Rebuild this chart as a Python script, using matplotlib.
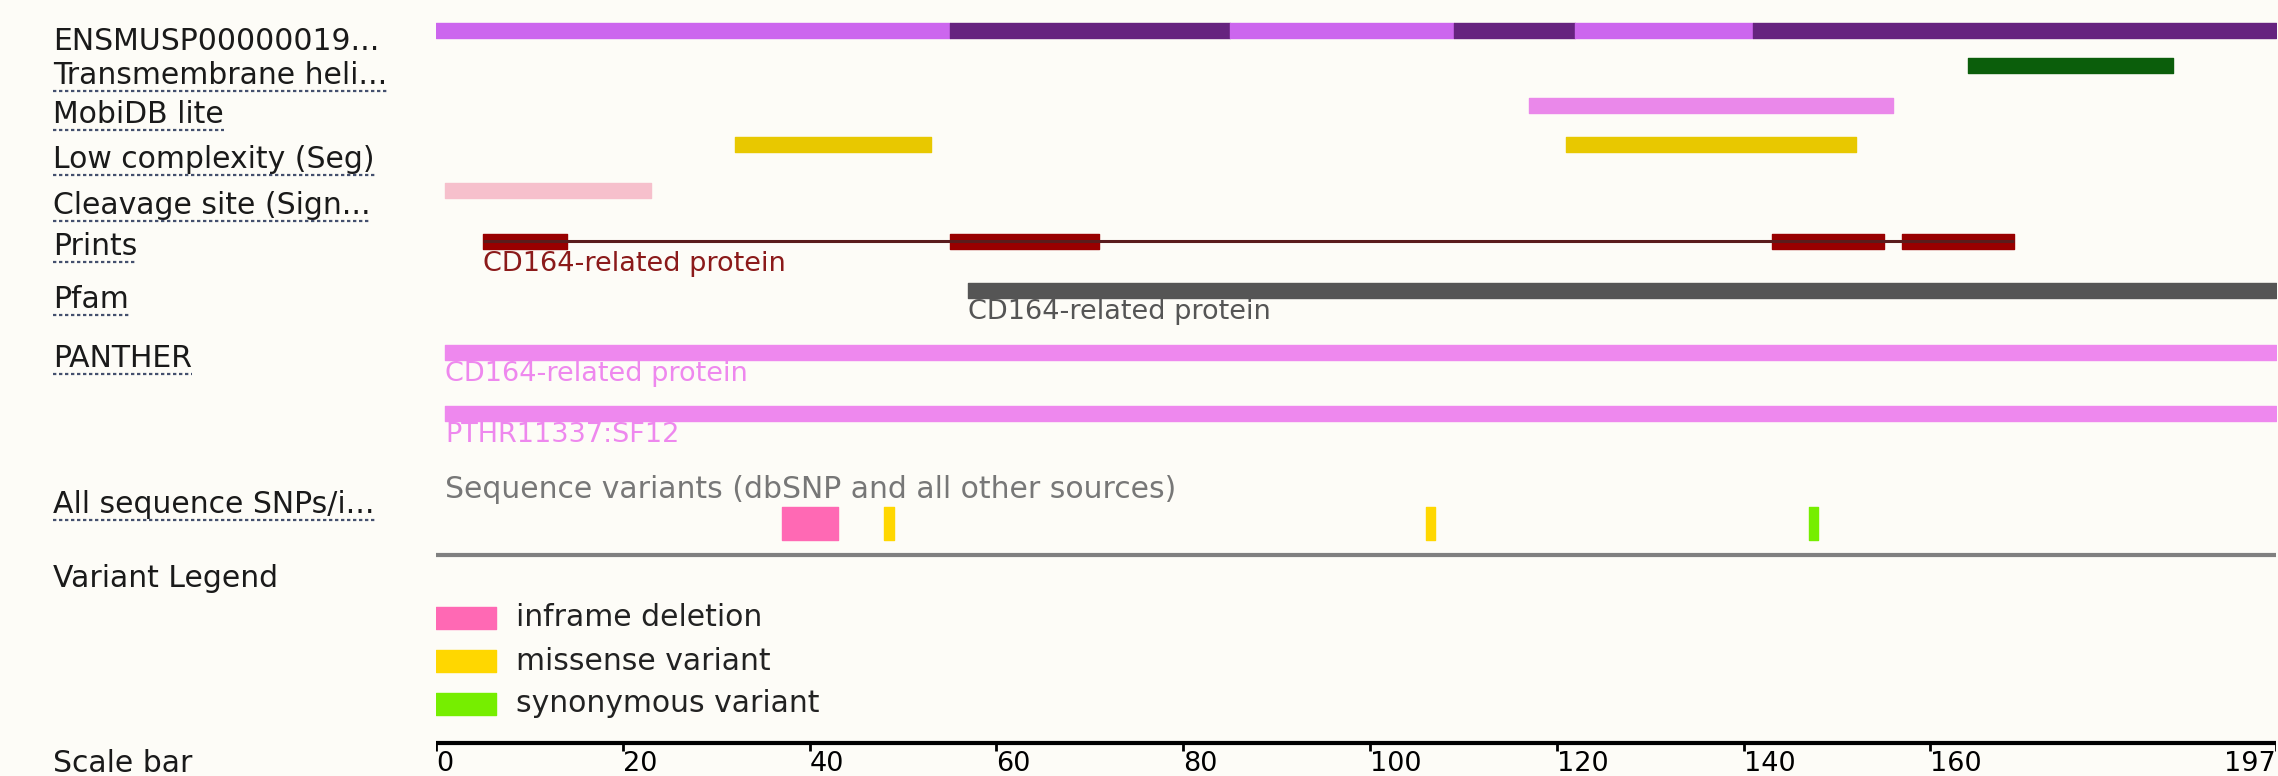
import matplotlib
matplotlib.use("Agg")
import matplotlib.pyplot as plt
from matplotlib.transforms import blended_transform_factory
from matplotlib.lines import Line2D

# protein length (aa)
seq_len = 197

# translation track, alternating exon blocks
exon_starts = [0, 55, 85, 109, 122, 141]
exon_ends = [55, 85, 109, 122, 141, 197]

# domain / feature tracks (start, end) in residues
tm_helix = [(164, 186)]
mobidb_lite = [(117, 156)]
low_complex = [(32, 53), (121, 152)]
cleavage_site = [(1, 23)]
prints_hits = [(5, 14), (55, 71), (143, 155), (157, 169)]
pfam_hits = [(57, 197)]
panther_hits = [(1, 197), (1, 197)]
panther_names = ["CD164-related protein", "PTHR11337:SF12"]

# variants
variant_types = ["inframe deletion", "missense variant", "missense variant", "synonymous variant"]
variant_starts = [37, 48, 106, 147]
variant_ends = [43, 49, 107, 148]

legend_names = ["inframe deletion", "missense variant", "synonymous variant"]
scale_ticks = [0, 20, 40, 60, 80, 100, 120, 140, 160, 197]

track_labels = ["ENSMUSP00000019...", "Transmembrane heli...", "MobiDB lite",
                "Low complexity (Seg)", "Cleavage site (Sign...", "Prints", "Pfam",
                "PANTHER", "All sequence SNPs/i...", "Variant Legend", "Scale bar"]
label_underlined = [False, True, True, True, True, True, True, True, True, False, False]

# colours
bg = "#fdfcf7"
exon_cols = ["#cc66ee", "#66237f"]
variant_cols = {"inframe deletion": "#ff69b4",
                "missense variant": "#ffd700",
                "synonymous variant": "#76ee00"}

W, H = 2278, 776
fig = plt.figure(figsize=(W / 100, H / 100), dpi=100, facecolor=bg)
ax = fig.add_axes([436 / W, 0, 1840 / W, 1])
ax.set_facecolor(bg)
ax.set_xlim(0, seq_len)
ax.set_ylim(H, 0)  # y in pixel rows, top down
ax.axis("off")

FS = 19.5      # text inside the tracks
FS_LAB = 21.5  # left labels / legend
bar_h = 15


def spans(lst):
    return [(s, e - s) for s, e in lst]


# translation
for i, (s, e) in enumerate(zip(exon_starts, exon_ends)):
    ax.broken_barh([(s, e - s)], (30 - bar_h / 2, bar_h), color=exon_cols[i % 2])

ax.broken_barh(spans(tm_helix), (65 - bar_h / 2, bar_h), color="#0b5e0b")
ax.broken_barh(spans(mobidb_lite), (105 - bar_h / 2, bar_h), color="#ea88ea")
ax.broken_barh(spans(low_complex), (144 - bar_h / 2, bar_h), color="#e8c800")
ax.broken_barh(spans(cleavage_site), (190 - bar_h / 2, bar_h), color="#f6c0cc")

# prints: joined blocks
ax.plot([prints_hits[0][0], prints_hits[-1][1]], [241, 241], color="#5a1c1c", lw=2.2,
        solid_capstyle="butt")
ax.broken_barh(spans(prints_hits), (241 - bar_h / 2, bar_h), color="#990000")
ax.text(prints_hits[0][0], 264, "CD164-related protein", color="#8b1a1a",
        fontsize=FS, va="center", ha="left")

# pfam
ax.broken_barh(spans(pfam_hits), (290 - bar_h / 2, bar_h), color="#555555")
ax.text(pfam_hits[0][0], 312, "CD164-related protein", color="#555555",
        fontsize=FS, va="center", ha="left")

# panther
for (s, e), name, yc in zip(panther_hits, panther_names, [352, 413]):
    ax.broken_barh([(s, e - s)], (yc - bar_h / 2, bar_h), color="#ee88ee")
    ax.text(s, yc + 22, name, color="#ee88ee", fontsize=FS, va="center", ha="left")

# variants
ax.text(1, 489, "Sequence variants (dbSNP and all other sources)", color="#777777",
        fontsize=FS_LAB, va="center", ha="left")
for vt, s, e in zip(variant_types, variant_starts, variant_ends):
    ax.broken_barh([(s, e - s)], (507, 33), color=variant_cols[vt])
ax.plot([0, seq_len], [555, 555], color="#808080", lw=3, solid_capstyle="butt")

# variant legend
for name, yc in zip(legend_names, [618, 661, 704]):
    ax.broken_barh([(0, 6.4)], (yc - 11, 22), color=variant_cols[name])
    ax.text(8.6, yc, name, color="#222222", fontsize=FS_LAB, va="center", ha="left")

# scale bar
ax.plot([0, seq_len], [743, 743], color="black", lw=3, solid_capstyle="butt")
ax.vlines(scale_ticks, 743, 751, color="black", lw=2)
for t in scale_ticks:
    ax.text(t, 764, str(t), fontsize=FS, va="center",
            ha="right" if t == seq_len else "left", color="black")

# left-hand track labels
label_y = [50, 84, 123, 168, 214, 255, 308, 367, 513, 587, 772]
trans = blended_transform_factory(fig.transFigure, ax.transData)
texts = []
for lab, y in zip(track_labels, label_y):
    texts.append(ax.text(53 / W, y, lab, transform=trans, fontsize=FS_LAB, va="baseline",
                         ha="left", color="#1a1a1a", clip_on=False))

fig.canvas.draw()
inv = fig.transFigure.inverted()
for t, y, ul in zip(texts, label_y, label_underlined):
    if not ul:
        continue
    bb = t.get_window_extent().transformed(inv)
    yy = trans.transform((0, y + 7))[1]
    yy = inv.transform((0, yy))[1]
    fig.add_artist(Line2D([bb.x0, bb.x1], [yy, yy], color="#44506e", lw=1.6,
                          linestyle=(0, (1.5, 1.2))))

fig.savefig("out.png", dpi=100, facecolor=bg)
